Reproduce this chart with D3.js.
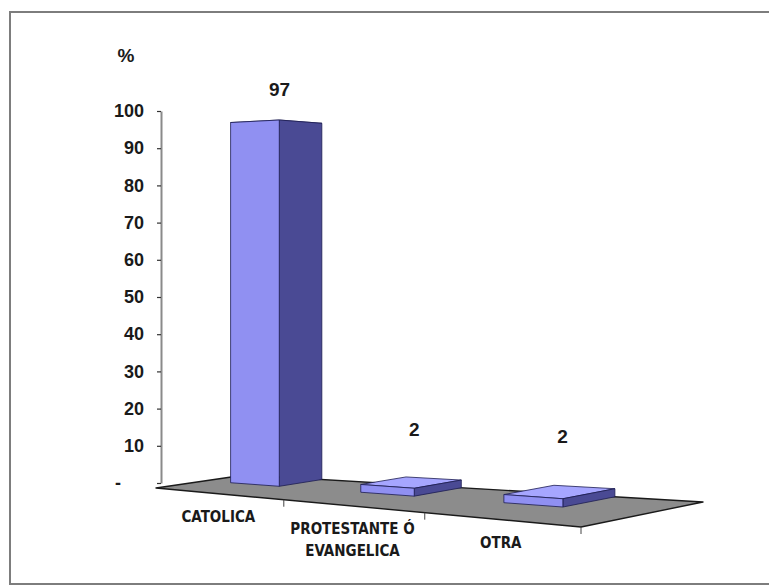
<!DOCTYPE html>
<html>
<head>
<meta charset="utf-8">
<script src="https://cdn.jsdelivr.net/npm/d3@7"></script>
<style>
  html, body { margin: 0; padding: 0; background: #ffffff; }
  svg { display: block; }
</style>
</head>
<body>
<svg id="chart" width="769" height="585"></svg>
<script>
// ---- data ----
const categories = ["CATOLICA", "PROTESTANTE Ó EVANGELICA", "OTRA"];
const categoryLines = [["CATOLICA"], ["PROTESTANTE Ó", "EVANGELICA"], ["OTRA"]];
const values = [97, 2, 2];
const yTicks = [0, 10, 20, 30, 40, 50, 60, 70, 80, 90, 100];
const yTickLabels = ["-", "10", "20", "30", "40", "50", "60", "70", "80", "90", "100"];
const unitLabel = "%";

// ---- layout ----
const svg = d3.select("#chart");
const FONT = "'Liberation Sans', Arial, sans-serif";
const NARROW = "'Liberation Sans Narrow', 'Arial Narrow', 'DejaVu Sans Condensed', sans-serif";

// outer frame
svg.append("rect")
  .attr("x", 10).attr("y", 12)
  .attr("width", 800).attr("height", 572)
  .attr("fill", "#ffffff")
  .attr("stroke", "#7d7d7d")
  .attr("stroke-width", 2);

// value scale (along the vertical axis)
const y = d3.scaleLinear().domain([0, 100]).range([483, 111]);
const axisX = 161;

// floor of the 3D plot: front-left, front-right, back-right, back-left
const FL = [156, 488], FR = [581, 527], BR = [703, 502], BL = [245, 475];
const PERSP = -0.14;                       // foreshortening along the category direction
const across = u => (1 + PERSP) * u / (1 + PERSP * u);

function ground(u, v) {
  const t = across(u);
  return [
    (1 - t) * (1 - v) * FL[0] + t * (1 - v) * FR[0] + t * v * BR[0] + (1 - t) * v * BL[0],
    (1 - t) * (1 - v) * FL[1] + t * (1 - v) * FR[1] + t * v * BR[1] + (1 - t) * v * BL[1]
  ];
}
// vertical size relative to the value axis, nearer parts look taller
function depthFactor(u, v) {
  const t = across(u);
  return (3.807 + 0.57 * t - 0.23 * v) / 3.72;
}
function project(u, v, value) {
  const [gx, gy] = ground(u, v);
  return [gx, gy - (y(0) - y(value)) * depthFactor(u, v)];
}

// category positions (category units) and their mapping onto the floor
const xCat = d3.scaleLinear().domain([0, categories.length]).range([0, 1]);
const band = d3.scaleBand().domain(categories).range([0.2, 2.49]).paddingInner(0.615).paddingOuter(0);
const V0 = 0.55, V1 = 1.0;                 // bar depth on the floor

const line = d3.line();

// floor
svg.append("path")
  .attr("d", line([FL, FR, BR, BL]) + "Z")
  .attr("fill", "#8c8c8c")
  .attr("stroke", "#1a1a1a")
  .attr("stroke-width", 1.4)
  .attr("stroke-linejoin", "round");

// category tick marks hanging from the front edge
for (let i = 1; i <= categories.length; i++) {
  const p = ground(xCat(i), 0);
  svg.append("line")
    .attr("x1", p[0]).attr("y1", p[1])
    .attr("x2", p[0]).attr("y2", p[1] + 7)
    .attr("stroke", "#444").attr("stroke-width", 1);
}

// value axis
const axis = svg.append("g")
  .attr("transform", `translate(${axisX},0)`)
  .call(d3.axisLeft(y)
    .tickValues(yTicks)
    .tickSize(4)
    .tickSizeOuter(0)
    .tickPadding(13)
    .tickFormat((d, i) => yTickLabels[i]));
axis.select(".domain").attr("stroke", "#8a8a8a").attr("stroke-width", 2);
axis.selectAll(".tick line").attr("stroke", "#333").attr("stroke-width", 1.2);
axis.selectAll(".tick text")
  .attr("font-family", FONT)
  .attr("font-size", 18)
  .attr("font-weight", "bold")
  .attr("fill", "#1a1a1a");
// the zero label is a dash set further left
axis.selectAll(".tick text").filter(d => d === 0)
  .attr("text-anchor", "start")
  .attr("x", -46);

// unit label
svg.append("text")
  .attr("x", 126).attr("y", 62)
  .attr("text-anchor", "middle")
  .attr("font-family", FONT)
  .attr("font-size", 19)
  .attr("font-weight", "bold")
  .attr("fill", "#1a1a1a")
  .text(unitLabel);

// bars
const faceFront = "#9090f2", faceSide = "#4a4a94", faceTop = "#a6a6ff", edge = "#1c1c50";
categories.forEach((c, i) => {
  const v = values[i];
  const u0 = xCat(band(c)), u1 = xCat(band(c) + band.bandwidth());
  const g = svg.append("g");
  const poly = (pts, fill) => g.append("path")
    .attr("d", line(pts) + "Z")
    .attr("fill", fill)
    .attr("stroke", edge)
    .attr("stroke-width", 0.8)
    .attr("stroke-linejoin", "round");
  poly([project(u0, V0, v), project(u1, V0, v), project(u1, V1, v), project(u0, V1, v)], faceTop);
  poly([project(u1, V0, 0), project(u1, V1, 0), project(u1, V1, v), project(u1, V0, v)], faceSide);
  poly([project(u0, V0, 0), project(u1, V0, 0), project(u1, V0, v), project(u0, V0, v)], faceFront);

  // value label above the bar, kept inside the plot
  const um = (u0 + u1) / 2, vm = (V0 + V1) / 2;
  const lp = project(um, vm, v + 12);
  svg.append("text")
    .attr("x", lp[0] + 4)
    .attr("y", Math.max(lp[1], 96))
    .attr("text-anchor", "middle")
    .attr("font-family", FONT)
    .attr("font-size", 19)
    .attr("font-weight", "bold")
    .attr("fill", "#1a1a1a")
    .text(v);
});

// category labels below the front edge
categoryLines.forEach((lines, i) => {
  const p = ground(xCat(i + 0.5), 0);
  const t = svg.append("text")
    .attr("text-anchor", "middle")
    .attr("font-family", NARROW)
    .attr("font-stretch", "condensed")
    .attr("font-weight", "bold")
    .attr("font-size", 15)
    .attr("fill", "#1a1a1a");
  lines.forEach((s, j) => {
    t.append("tspan")
      .attr("x", p[0])
      .attr("y", p[1] + 28 + j * 22)
      .text(s);
  });
});
</script>
</body>
</html>
